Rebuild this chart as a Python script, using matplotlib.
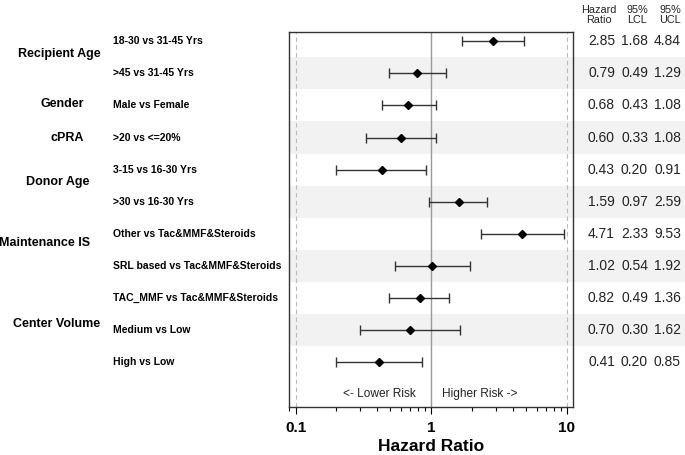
import numpy as np
import matplotlib.pyplot as plt
from matplotlib.transforms import blended_transform_factory
from matplotlib.ticker import LogLocator, NullFormatter

plt.rcParams['font.family'] = ['Liberation Sans', 'DejaVu Sans']

# Data
groups = ['Recipient Age', 'Gender', 'cPRA', 'Donor Age', 'Maintenance IS', 'Center Volume']
# group label positions (row units) and horizontal centres (pixels)
group_rows = [1.4, 2.95, 4.0, 5.4, 7.3, 9.8]
group_x = [59, 62, 67, 58, 45, 57]

comparisons = ['18-30 vs 31-45 Yrs', '>45 vs 31-45 Yrs', 'Male vs Female', '>20 vs <=20%',
               '3-15 vs 16-30 Yrs', '>30 vs 16-30 Yrs', 'Other vs Tac&MMF&Steroids',
               'SRL based vs Tac&MMF&Steroids', 'TAC_MMF vs Tac&MMF&Steroids',
               'Medium vs Low', 'High vs Low']
hr = [2.85, 0.79, 0.68, 0.60, 0.43, 1.59, 4.71, 1.02, 0.82, 0.70, 0.41]
lcl = [1.68, 0.49, 0.43, 0.33, 0.20, 0.97, 2.33, 0.54, 0.49, 0.30, 0.20]
ucl = [4.84, 1.29, 1.08, 1.08, 0.91, 2.59, 9.53, 1.92, 1.36, 1.62, 0.85]

W, H = 685, 455
fig = plt.figure(figsize=(W / 100, H / 100), dpi=100)
ax_l, ax_r, ax_t, ax_b = 289, 573, 32, 407
ax = fig.add_axes([ax_l / W, 1 - ax_b / H, (ax_r - ax_l) / W, (ax_b - ax_t) / H])

rows = np.arange(1, len(hr) + 1)
hr = np.array(hr)
lcl = np.array(lcl)
ucl = np.array(ucl)

# alternating stripes extending into the table
for r in rows:
    if r % 2 == 0:
        ax.axhspan(r - 0.5, r + 0.5, xmin=0, xmax=(W - ax_l) / (ax_r - ax_l),
                   color='#f2f2f2', zorder=0, clip_on=False, lw=0)

ax.axvline(1, color='#999999', lw=1, zorder=1)
ax.axvline(0.1, color='#bbbbbb', lw=0.8, ls=(0, (4, 3)), zorder=1)
ax.axvline(10, color='#bbbbbb', lw=0.8, ls=(0, (4, 3)), zorder=1)

ax.errorbar(hr, rows, xerr=[hr - lcl, ucl - hr], fmt='D', color='black',
            ecolor='#333333', elinewidth=1, capsize=3.5, capthick=1, markersize=4.5, zorder=3)

ax.set_xscale('log')
ax.set_xlim(10 ** -1.049, 10 ** 1.046)
ax.set_ylim(12.40, 0.71)
ax.set_yticks([])
ax.set_xticks([0.1, 1, 10])
ax.set_xticklabels(['0.1', '1', '10'], fontsize=11, fontweight='bold')
ax.xaxis.set_minor_locator(LogLocator(base=10, subs=np.arange(2, 10)))
ax.xaxis.set_minor_formatter(NullFormatter())
ax.tick_params(axis='x', which='major', length=5, width=0.8, pad=5)
ax.tick_params(axis='x', which='minor', length=3, width=0.8)
ax.set_xlabel('Hazard Ratio', fontsize=12.5, fontweight='bold', labelpad=3)
for s in ax.spines.values():
    s.set_color('#333333')
    s.set_linewidth(1)

ax.text(0.775, 12.0, '<- Lower Risk', ha='right', va='center', fontsize=8.6, color='#222222')
ax.text(1.2, 12.0, 'Higher Risk ->', ha='left', va='center', fontsize=8.6, color='#222222')

# left labels
tr = blended_transform_factory(fig.transFigure, ax.transData)
for g, gr, gx in zip(groups, group_rows, group_x):
    ax.text(gx / W, gr, g, transform=tr, ha='center', va='center',
            fontsize=9, fontweight='bold', clip_on=False)
for c, r in zip(comparisons, rows):
    ax.text(113 / W, r, c, transform=tr, ha='left', va='center',
            fontsize=7.5, fontweight='bold', clip_on=False)

# table on the right
col_right = [615, 648, 681]
for r, a, b, c in zip(rows, hr, lcl, ucl):
    for xr, v in zip(col_right, (a, b, c)):
        ax.text(xr / W, r, f'{v:.2f}', transform=tr, ha='right', va='center',
                fontsize=10, color='#222222', clip_on=False)

headers = ['Hazard\nRatio', '95%\nLCL', '95%\nUCL']
header_x = [599, 637, 670]
for h, hx in zip(headers, header_x):
    fig.text(hx / W, 1 - 15 / H, h, ha='center', va='center', fontsize=7.8,
             color='#222222', linespacing=1.05)

fig.savefig('out.png', dpi=100)
